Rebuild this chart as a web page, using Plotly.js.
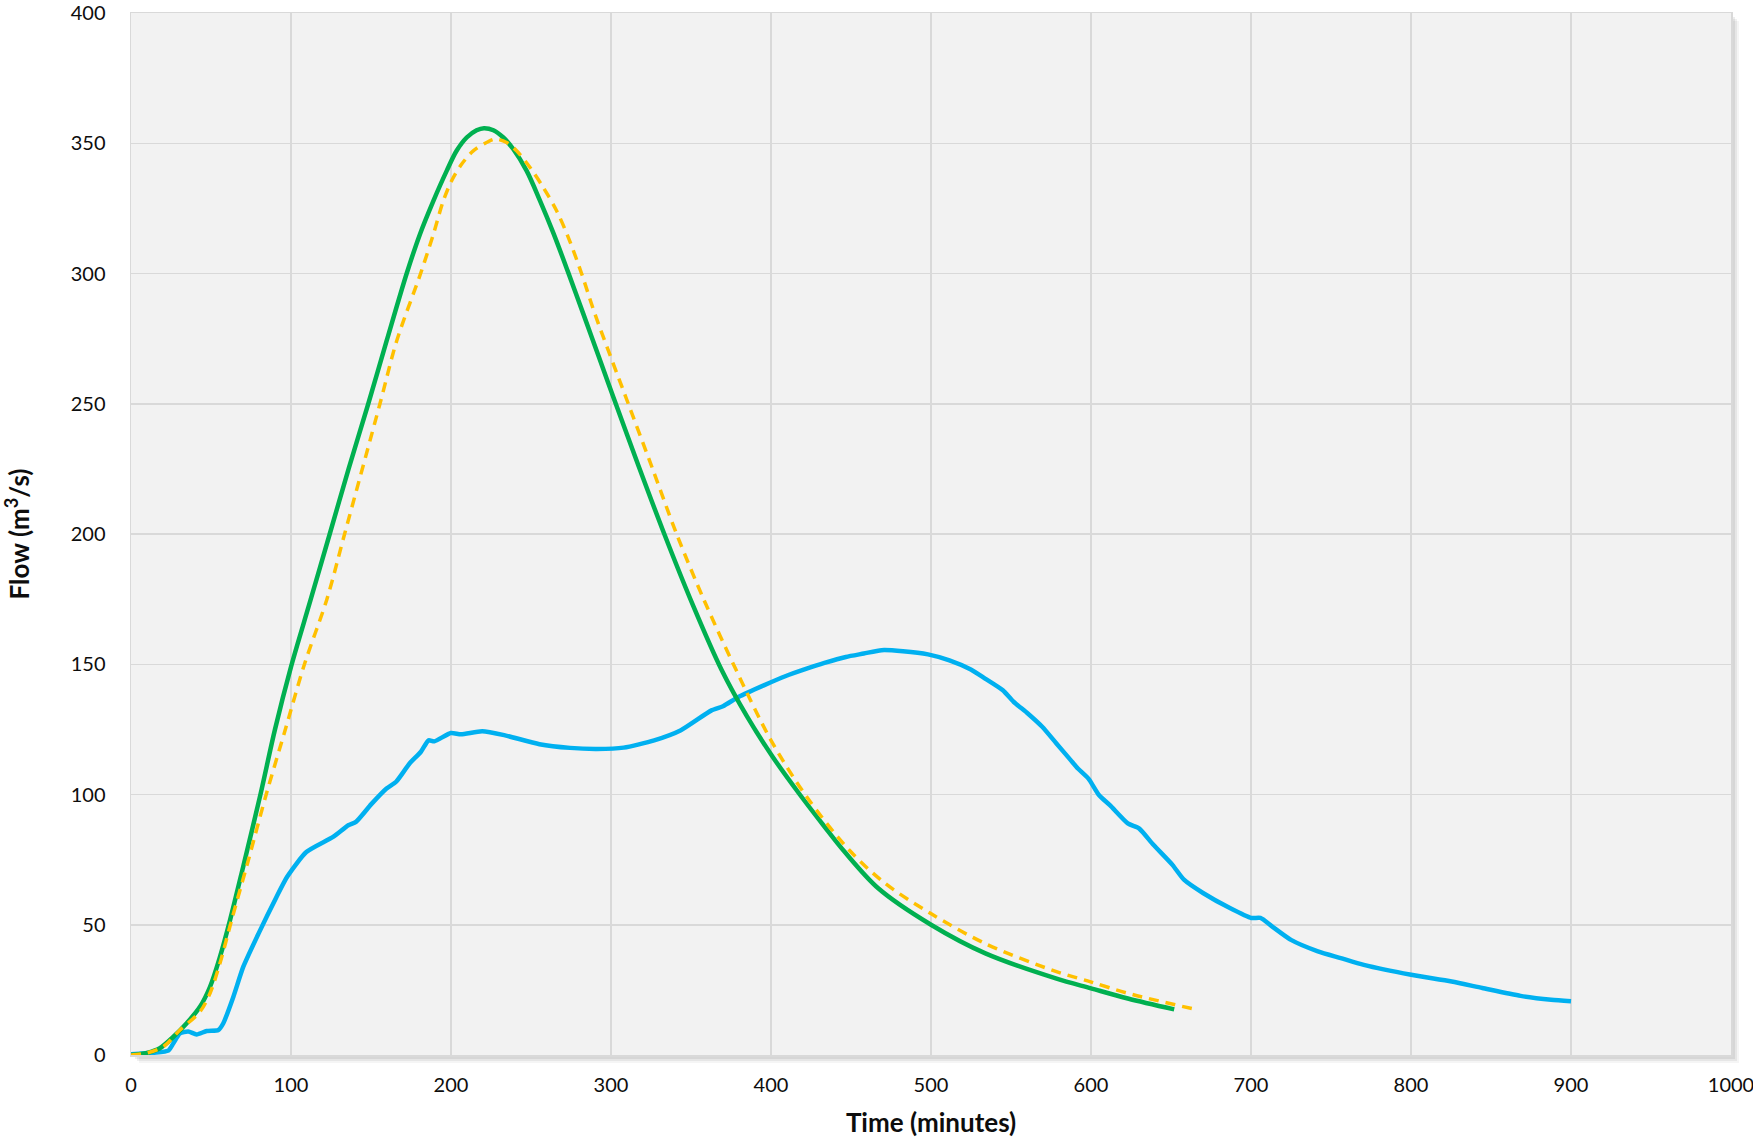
<!DOCTYPE html>
<html>
<head>
<meta charset="utf-8">
<script src="https://cdn.plot.ly/plotly-3.0.1.min.js"></script>
<style>html,body{margin:0;padding:0;background:#fff;}#chart{width:1753px;height:1138px;}</style>
</head>
<body>
<div id="chart"></div>
<script>
// Blue series (observed)
const blueTime = [0,14,23.3,26.5,30.6,35.8,41,47.3,54.6,57.7,64,70.2,79.7,90.4,97.6,109.6,126.3,135.8,140.6,150.2,159.7,165.7,174.1,181.2,186,189.6,199.9,206.3,219.5,233.8,255.3,274.4,291.2,307.9,327,343.7,362.8,370,379.9,395.5,408.9,422.3,433.4,446.8,458,469.1,482.5,498.1,511.5,524.9,533.8,544.9,551.6,560.5,569.5,578.4,587.3,591.8,598.4,605.1,611.8,623,630,639,650.9,658.1,670,686.8,700.2,705.9,713.1,725,741.8,756.1,770.5,800.1,825.4,844.6,868.5,887.6,900];
const blueFlow = [0.3,0.9,1.7,4.5,8.3,9.0,7.9,9.2,9.6,12.2,22.4,33.9,46.6,60.0,68.4,77.9,83.7,88.2,89.5,96.3,102.3,104.9,111.9,116.4,120.8,120.4,123.6,123.1,124.3,122.7,119.3,117.9,117.5,118.0,120.8,124.7,132.3,133.9,137.5,141.9,145.4,148.3,150.5,152.8,154.1,155.4,155.0,153.8,151.5,148.0,144.5,140.0,135.6,131.1,126.0,119.6,113.2,110.0,106.1,99.7,95.9,88.9,87.0,80.7,73.0,67.3,62.2,56.4,52.6,52.6,49.4,44.2,39.8,37.2,34.6,30.8,28.2,25.7,22.7,21.2,20.6];

// Green series (solid)
const greenTime = [0,10,18,26.5,34.8,43.1,49.4,55.6,61.9,70,80.9,90,100,111.9,124.2,136,148.3,159.8,172.3,180.6,189,197.3,203.5,209.8,216,220.6,226.5,232.7,239,247.3,255.6,264,272.9,282.7,292.1,301.5,317,333,351,369,385,401,418,433,446,467,500,534,578,600,623,652];
const greenFlow = [0,0.8,2.6,7.0,12.2,18.5,26.2,37.7,51.8,72,100,125,149,174,200,225,250,274.2,300,315.1,327.9,339.4,347.1,352.2,355.0,355.8,355.0,352.2,347.7,339.4,328,315.5,301,284.5,268.5,252.5,226.5,200.5,173,148,130,114.5,100,88,78,64,50.0,39.0,29.4,25.6,21.7,17.5];

// Yellow series (dashed)
const yellowTime = [0,10,20.2,30.6,43.1,49.4,55.6,62.9,73,84.5,96,108.4,122.3,133.5,155.6,166,181,189,195.2,200.4,206.7,213.9,222.2,227.5,234.8,241,249.4,257.7,266,273.3,281.6,290,310.8,326,341,358.1,376.5,400,422.3,449,471.3,499.9,533.8,578.4,599.8,623,665.3];
const yellowFlow = [0,0.8,3.2,9.6,16.6,23.7,35.2,51.8,74,100,124,150,174.7,200,250,274,300,315.1,327.9,335.6,342.0,347.1,350.3,351.6,350.3,347.1,340.7,333.0,324.1,313.9,300,284.4,250,225,200,174.7,150,120.8,99.1,78.6,65.9,54.3,42.8,32.0,28.1,23.7,17.5];

const xTickVals = [0,100,200,300,400,500,600,700,800,900,1000];
const yTickVals = [0,50,100,150,200,250,300,350,400];

const FONT = 'Lato, "Open Sans", sans-serif';
const px = 1/1600, py = 1/1042;

const traces = [
  {x: blueTime, y: blueFlow, type: 'scatter', mode: 'lines', line: {color: '#00b0f0', width: 4.5, shape: 'spline', smoothing: 0.6}, hoverinfo: 'skip'},
  {x: greenTime, y: greenFlow, type: 'scatter', mode: 'lines', line: {color: '#00b050', width: 4.5, shape: 'spline', smoothing: 0.9}, hoverinfo: 'skip'},
  {x: yellowTime, y: yellowFlow, type: 'scatter', mode: 'lines', line: {color: '#ffc000', width: 3.5, dash: '10px,7px', shape: 'spline', smoothing: 0.9}, hoverinfo: 'skip'}
];

const shapes = [];
[[2,0.07],[4,0.07],[6,0.06],[8,0.04]].forEach(([o,a]) => {
  shapes.push({type:'rect', xref:'paper', yref:'paper', layer:'below',
    x0: o*px, x1: 1 + o*px, y0: -o*py, y1: 1 - o*py,
    fillcolor: 'rgba(0,0,0,'+a+')', line: {width: 0}});
});
shapes.push({type:'rect', xref:'paper', yref:'paper', layer:'below',
  x0: 0, x1: 1, y0: 0, y1: 1, fillcolor: '#f2f2f2', line: {width: 0}});

const layout = {
  width: 1753, height: 1138,
  margin: {l: 131, r: 22, t: 13, b: 83},
  paper_bgcolor: '#ffffff',
  plot_bgcolor: 'rgba(0,0,0,0)',
  showlegend: false,
  font: {family: FONT, size: 20, color: '#0d0d0d'},
  shapes: shapes,
  xaxis: {
    range: [0, 1000], tickvals: xTickVals, ticktext: xTickVals.map(String),
    showgrid: true, gridcolor: '#d9d9d9', gridwidth: 1.5,
    zeroline: false, showline: true, mirror: true, linecolor: '#d9d9d9', linewidth: 1.5,
    ticks: '', ticklabelstandoff: 11, ticklabeloverflow: 'allow',
    tickfont: {family: FONT, size: 20, color: '#0d0d0d'},
    title: {text: 'Time (minutes)', font: {family: FONT, size: 26, color: '#0d0d0d', weight: 'bold'}, standoff: 19}
  },
  yaxis: {
    range: [0, 400], tickvals: yTickVals, ticktext: yTickVals.map(String),
    showgrid: true, gridcolor: '#d9d9d9', gridwidth: 1.5,
    zeroline: false, showline: true, mirror: true, linecolor: '#d9d9d9', linewidth: 1.5,
    ticks: '', ticklabelstandoff: 20,
    tickfont: {family: FONT, size: 20, color: '#0d0d0d'},
    title: {text: 'Flow (m<sup>3</sup>/s)', font: {family: FONT, size: 26, color: '#0d0d0d', weight: 'bold'}, standoff: 34}
  }
};

Plotly.newPlot('chart', traces, layout, {displayModeBar: false, staticPlot: true});
</script>
</body>
</html>
